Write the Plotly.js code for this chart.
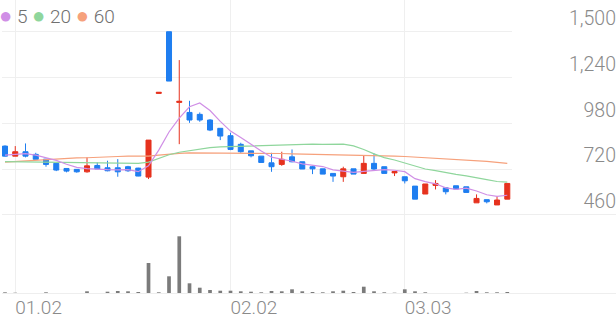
<!DOCTYPE html>
<html>
<head>
<meta charset="utf-8">
<script src="https://cdn.plot.ly/plotly-3.0.1.min.js"></script>
<style>html,body{margin:0;padding:0;background:#fff;}#chart{width:616px;height:321px;}</style>
</head>
<body>
<div id="chart"></div>
<script>
// ---- data ----
const idx = Array.from({length: 50}, (_, i) => i);
const tickIndex = [1, 22, 39];
const tickLabels = ['01.02', '02.02', '03.03'];
const priceTicks = [460, 720, 980, 1240, 1500];

const openP  = [851,794,819,804,777,753,724,719,705,741,728,728,734,726,675,1150,1500,1099,1042,1031,999,952,910,861,824,794,756,747,790,762,734,722,696,677,722,696,753,734,699,677,624,579,628,614,626,620,529,547,517,550];
const highP  = [855,851,866,813,777,753,724,719,787,758,768,777,739,728,885,1156,1500,1339,1108,1042,1004,952,927,870,824,794,813,819,832,762,739,722,696,734,722,796,810,734,707,677,624,636,658,614,626,620,577,547,567,639];
const lowP   = [792,794,787,776,734,709,702,700,700,721,708,677,705,680,664,1150,1220,862,983,989,936,885,828,813,787,758,705,739,759,721,692,692,648,648,692,696,715,696,681,639,550,579,605,577,607,588,529,526,517,550];
const closeP = [794,819,794,776,747,715,709,705,739,721,711,705,711,681,885,1156,1220,1105,999,999,942,908,832,819,796,758,734,776,762,721,722,692,681,722,692,753,721,696,707,654,550,636,639,592,607,588,554,535,545,639];

const ma5  = [800,806,808,800,786,770,748,730,723,718,717,716,717,706,739,828,931,1010,1074,1096,1053,991,936,900,859,823,788,777,765,750,743,735,716,708,702,708,714,717,714,706,666,649,637,614,605,612,596,575,566,572];
const ma20 = [763,762,761,760,760,760,759,758,757,756,755,754,753,753,760,782,802,816,826,835,842,847,849,851,853,855,857,860,861,861,862,861,860,862,852,832,807,786,772,754,735,721,712,700,691,682,673,661,650,646];
const ma60 = [760,764,768,771,775,779,783,784,785,786,789,792,794,794,794,800,806,810,813,813,813,813,813,812,812,811,810,809,807,806,804,803,802,800,799,798,797,796,794,792,789,786,783,780,776,773,769,764,759,753];

const volume = [17000,13000,10000,10000,17000,7000,7000,7000,27000,10000,23000,30000,27000,20000,310000,17000,177000,577000,107000,63000,40000,33000,33000,27000,23000,17000,30000,27000,47000,27000,20000,17000,27000,33000,20000,73000,27000,17000,13000,47000,27000,17000,7000,3000,3000,13000,30000,17000,17000,20000];

const legendNames = ['5', '20', '60'];

// ---- styles ----
const RED = '#e6321e', BLUE = '#1f7ef0';
const C5 = '#d08fe6', C20 = '#8fd69c', C60 = '#f6a17c';
const GRID = '#efefef', TXT = '#8a8a8a';
const FONT = 'Roboto, sans-serif';

const traces = [
  {type: 'scatter', mode: 'lines', x: idx, y: ma60, line: {color: C60, width: 1.2}, xaxis: 'x', yaxis: 'y', hoverinfo: 'skip'},
  {type: 'scatter', mode: 'lines', x: idx, y: ma20, line: {color: C20, width: 1.2}, xaxis: 'x', yaxis: 'y', hoverinfo: 'skip'},
  {type: 'scatter', mode: 'lines', x: idx, y: ma5, line: {color: C5, width: 1.2}, xaxis: 'x', yaxis: 'y', hoverinfo: 'skip'},
  {type: 'candlestick', x: idx, open: openP, high: highP, low: lowP, close: closeP,
   increasing: {line: {color: RED, width: 1}, fillcolor: RED},
   decreasing: {line: {color: BLUE, width: 1}, fillcolor: BLUE},
   whiskerwidth: 0, xaxis: 'x', yaxis: 'y'},
  {type: 'bar', x: idx, y: volume, width: 0.36, marker: {color: '#7b7b7b'}, xaxis: 'x', yaxis: 'y2'}
];

const priceBottom = (294 - 215) / 294;

const dot = c => '<span style="color:' + c + ';font-size:22px;font-family:DejaVu Sans">●</span>';
const legendText = dot(C5) + ' ' + legendNames[0] + ' ' + dot(C20) + ' ' + legendNames[1] + ' ' + dot(C60) + ' ' + legendNames[2];

const layout = {
  width: 616, height: 321,
  margin: {l: 2, r: 0, t: 0, b: 27},
  paper_bgcolor: '#fff', plot_bgcolor: '#fff',
  showlegend: false,
  font: {family: FONT, color: TXT, size: 18},
  xaxis: {
    domain: [0, 510 / 614], range: [-0.293, 49.46], anchor: 'y2',
    tickvals: tickIndex, ticktext: tickLabels,
    ticklabelposition: 'outside right', ticklabelstandoff: 0,
    showgrid: true, gridcolor: GRID, gridwidth: 1,
    zeroline: false, showline: false, ticks: '',
    tickfont: {family: FONT, size: 19, color: TXT, weight: 300},
    rangeslider: {visible: false}, fixedrange: true
  },
  yaxis: {
    domain: [priceBottom, 1], range: [460, 1680],
    anchor: 'free', position: 1, side: 'left',
    tickvals: priceTicks, tickformat: ',d',
    ticklabelposition: 'outside top',
    showgrid: true, gridcolor: GRID, gridwidth: 1,
    zeroline: false, showline: false, ticks: '',
    tickfont: {family: FONT, size: 19.5, color: TXT, weight: 300}
  },
  yaxis2: {
    domain: [0, priceBottom], range: [0, 790000],
    showgrid: false, zeroline: false, showticklabels: false, ticks: ''
  },
  shapes: [
    {type: 'line', xref: 'paper', yref: 'y', x0: 0, x1: 1, y0: 460, y1: 460, line: {color: '#eeeeee', width: 2}},
    {type: 'line', xref: 'paper', yref: 'y2', x0: 0, x1: 1, y0: 0, y1: 0, line: {color: '#eeeeee', width: 2}}
  ],
  annotations: [
    {xref: 'paper', yref: 'paper', x: 0, y: 1, xanchor: 'left', yanchor: 'top', xshift: -5, yshift: -1,
     showarrow: false, align: 'left',
     font: {family: FONT, size: 19, color: '#707070', weight: 300},
     text: legendText}
  ]
};

Plotly.newPlot('chart', traces, layout, {displayModeBar: false, staticPlot: true});
</script>
</body>
</html>
